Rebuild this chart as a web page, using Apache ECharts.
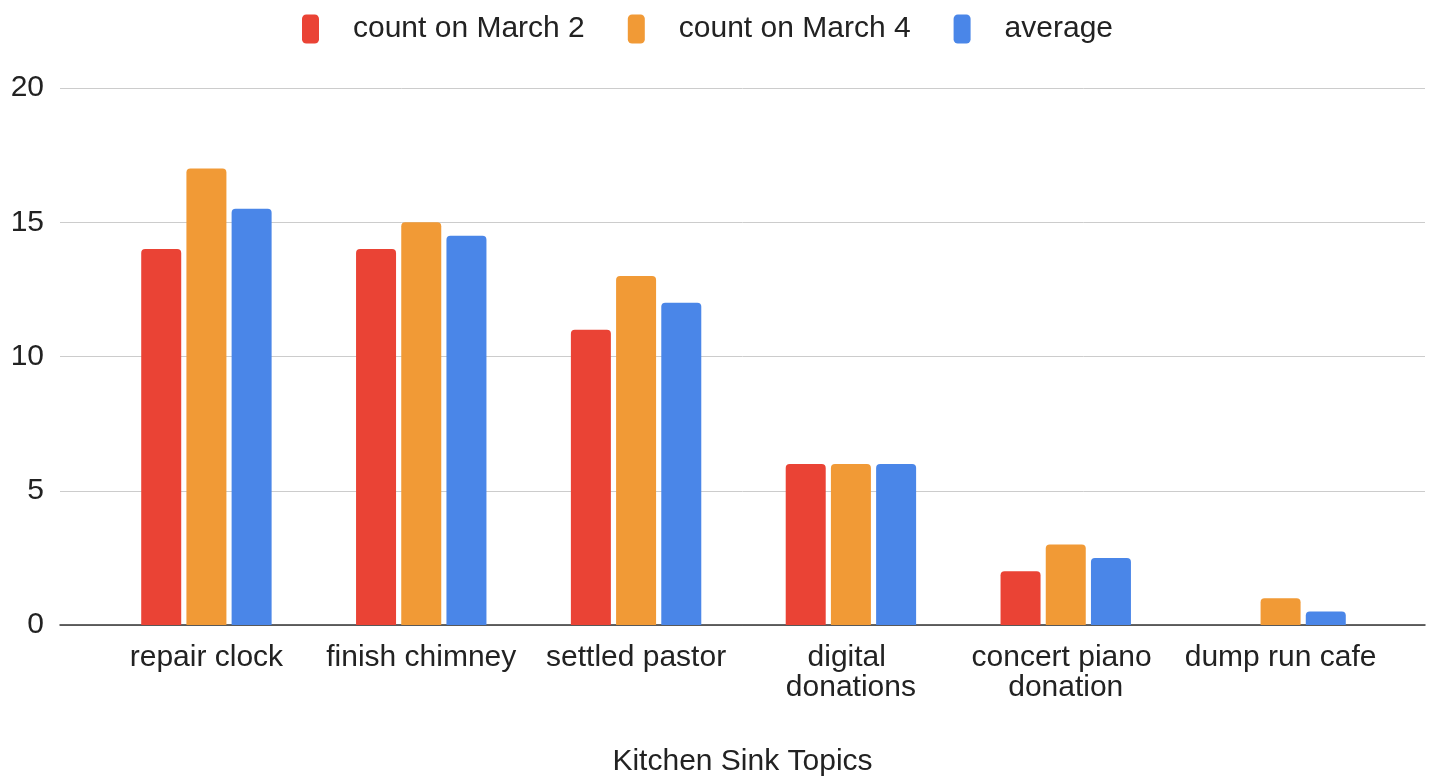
<!DOCTYPE html>
<html>
<head>
<meta charset="utf-8">
<script src="https://cdn.jsdelivr.net/npm/echarts@6/dist/echarts.min.js"></script>
<style>
html,body{margin:0;padding:0;background:#fff;}
#chart{width:1434px;height:779px;}
</style>
</head>
<body>
<div id="chart"></div>
<script>
const categories = ['repair clock', 'finish chimney', 'settled pastor', 'digital donations', 'concert piano donation', 'dump run cafe'];
const march2 = [14, 14, 11, 6, 2, 0];
const march4 = [17, 15, 13, 6, 3, 1];
const average = [15.5, 14.5, 12, 6, 2.5, 0.5];
const seriesNames = ['count on March 2', 'count on March 4', 'average'];
const xAxisTitle = 'Kitchen Sink Topics';

const FONT = '"Liberation Sans", Arial, sans-serif';
const TXT = '#222222';
const colors = ['#EA4335', '#F19A36', '#4A86E8'];

const chart = echarts.init(document.getElementById('chart'), null, {renderer: 'canvas'});

function barSeries(name, data, color) {
  return {
    name: name,
    type: 'bar',
    xAxisIndex: 1,
    yAxisIndex: 1,
    data: data,
    barWidth: 40,
    barGap: '13%',
    itemStyle: {color: color, borderRadius: [4, 4, 0, 0]},
    emphasis: {disabled: true}
  };
}

chart.setOption({
  animation: false,
  color: colors,
  textStyle: {fontFamily: FONT},
  legend: {
    top: 9,
    left: 297,
    itemWidth: 17,
    itemHeight: 29,
    itemGap: 43,
    icon: 'roundRect',
    data: seriesNames,
    textStyle: {fontFamily: FONT, fontSize: 30, color: TXT, padding: [0, 0, 0, 29]}
  },
  grid: [
    {left: 60, right: 9, top: 88, bottom: 154, containLabel: false, outerBoundsMode: 'none'},
    {left: 99, right: 46, top: 88, bottom: 154, containLabel: false, outerBoundsMode: 'none'}
  ],
  xAxis: [
    {
      gridIndex: 0, type: 'value', min: 0, max: 1,
      axisLine: {show: true, onZero: false, lineStyle: {color: '#333333', width: 1.5}},
      axisTick: {show: false}, axisLabel: {show: false}, splitLine: {show: false},
      name: xAxisTitle, nameLocation: 'middle', nameGap: 122,
      nameTextStyle: {fontFamily: FONT, fontSize: 30, color: TXT}
    },
    {
      gridIndex: 1, type: 'category', data: categories,
      axisLine: {show: false}, axisTick: {show: false},
      axisLabel: {
        fontFamily: FONT, fontSize: 30, color: TXT, margin: 18, lineHeight: 30,
        interval: 0, width: 205, overflow: 'break', align: 'center'
      }
    }
  ],
  yAxis: [
    {
      gridIndex: 0, type: 'value', min: 0, max: 20, interval: 5,
      axisLine: {show: false}, axisTick: {show: false},
      axisLabel: {fontFamily: FONT, fontSize: 30, color: TXT, margin: 16, padding: [7, 0, 0, 0]},
      splitLine: {show: true, lineStyle: {color: '#cccccc', width: 1}}
    },
    {
      gridIndex: 1, type: 'value', min: 0, max: 20, interval: 5,
      axisLine: {show: false}, axisTick: {show: false},
      axisLabel: {show: false}, splitLine: {show: false}
    }
  ],
  series: [
    barSeries(seriesNames[0], march2, colors[0]),
    barSeries(seriesNames[1], march4, colors[1]),
    barSeries(seriesNames[2], average, colors[2])
  ]
});
</script>
</body>
</html>
